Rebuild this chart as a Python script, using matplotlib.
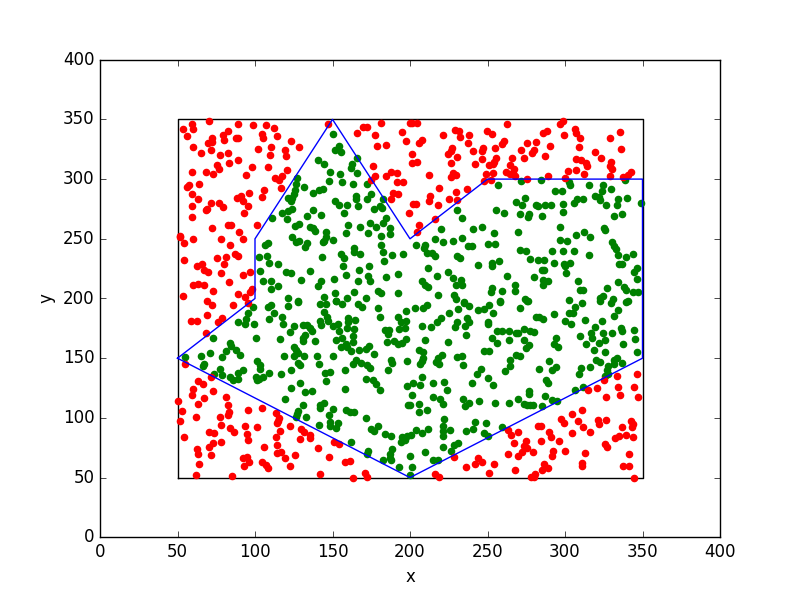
import matplotlib
matplotlib.use("Agg")
import matplotlib.pyplot as plt

plt.style.use('classic')

# points outside the polygon
red_points = [
(53.8,342),(59.1,346),(60.2,342),(70.5,349),(55.9,336),(89.2,346),(98.5,345),(106.9,345),(112.5,343),(147.3,346),
(104.3,338),(104.9,334.4),(114,336),(79.1,337),(82.8,340),(72.5,334.4),(80.2,332.7),(72,330.8),(69.5,330.2),(88.8,334.4),
(87.5,334.4),(60.2,327),(65,322),(71.4,324),(77.6,320),(82.8,322),(102.1,325),(110.1,327),(109.9,320),(119.6,324.4),
(120.2,319.4),(123.4,331.6),(128.6,327),(166,338.6),(169.4,343.6),(172.4,344),(181.5,347),(177.6,337),(194.6,339.4),(197.4,331.6),
(178.5,327.7),(184.3,328.6),(200,347),(88.8,316),(83.4,313.5),(75.3,312),(77,308.5),(73.1,304.3),(68.2,306),(59.1,306),
(97.8,310),(94,303.5),(108.6,310),(120.8,307.6),(112.7,300.7),(117.2,302.3),(115.7,299.3),(116.5,292.6),(175.9,311),(177.6,302.6),
(175,299.5),(184.3,302.6),(188,306),(191.4,305),(191.4,297.6),(195.7,297.6),(64,296),(57.6,294.8),(56.3,293.4),(59.6,287.5),
(63.4,283.4),(59.1,277.5),(71.4,280),(76.6,280),(79.6,276.4),(69.2,275),(68.4,274),(96.3,288.4),(106,291),(104.3,284.8),
(90.7,285.9),(88.6,284.2),(92,281.4),(95.7,277.5),(93.1,271.6),(59.4,268.3),(188.8,288.4),(192.4,287.5),(188,283.4),(199.1,271.6),
(72.5,259),(82.8,261.6),(84.5,261.6),(89.9,255.7),(101.5,261.6),(92,249.9),(78.3,249.9),(60.2,249.9),(51.8,252.7),(51.8,251.3),
(54.4,246.5),(84.1,244.9),(87.1,237.3),(88.8,235.7),(81.5,234.8),(75.7,234),(80.2,229),(54.4,232.3),(62.4,227.3),(65.6,229),
(67.3,224),(69.9,222.3),(78.3,221.4),(92,219.7),(97,222.3),(83.4,213.9),(59.8,211.4),(63.4,212.2),(67.3,211.4),(73.1,206.4),
(53.8,202.2),(88.8,203.8),(93.8,201.3),(96.8,205.2),(98.3,208),(69.2,197.5),
(72.5,194.7),(86,194.7),(95.7,196),(68.8,186.3),(78.9,183.8),(75.9,180.4),(58.5,181.3),(62.8,181.3),(68.2,170.7),(54.8,145.3),
(71.4,134.4),(63.4,131),(66.7,128.5),(60.2,124.4),(59.6,119.3),(73.1,122.7),(67.3,116.8),(63.4,111.8),(50.5,114.3),(53.1,106),
(51.8,97.6),(62.1,100.9),(81.5,117.7),(82.8,111),(83.4,105.1),(82.8,102.6),(77.6,100.9),(95.7,106.8),(104.7,108.5),(113.8,104.3),
(115.7,100.1),(115,97.6),(114.4,95.9),(78.3,94.2),(84.1,91.7),(86.7,88.6),(93.8,93.4),(101.5,92.6),(70.5,88.4),(73.8,87.5),
(54.4,84.2),(95,86.7),(95.7,81.7),(122.8,93.4),(116.3,89.2),(113.8,84.2),(129.9,90.9),(131.8,88.4),(135.7,85.9),(135.7,83.4),
(129.2,82.5),(78.3,80),(73.1,79.2),(70.5,75.8),(62.8,74.1),(63.4,70),(71.8,69.1),(106,75.8),(114.4,77.5),(114.4,70.8),
(117,71.6),(119.6,66.6),(126,69.1),(140.8,75),(151.2,80),(154.4,78.3),(148,67.4),(92.5,66.6),(95,67.4),(96.3,63.3),
(93.1,59.9),(104.7,63.3),(107.3,60.8),(108.6,58.2),(122.8,59.9),(64.1,61.6),(62.1,52.4),(85.4,51.5),(142.1,53.2),(158.3,63.3),
(161.5,64.1),(171.2,54.1),(172.4,50.7),(163.4,49.9),
(201,347),(204.3,347),(221.5,337),(229.2,341.1),(231.8,340.3),(232.5,335.3),(238.3,337),(237.6,330.2),(240.9,323.5),(249.9,340.3),
(253.1,337.8),(262.8,346.1),(207.5,332.7),(206,330.2),(227.3,326),(224.7,321),(226.7,323.5),(230.5,318.5),(226.2,313.5),(201,321),
(201,313.5),(204.7,314.3),(247.3,326),(246.7,323.5),(246.7,316.8),(242.1,312.7),(255,326),(260.8,331.9),(259.6,329.4),(255.7,317.7),
(254.4,314.3),(251.2,311.8),(253.8,312.7),(253.8,305.1),(249.2,304.3),(252.5,299.3),(247.9,298.4),(212.5,303.5),(228,305.1),(229.9,303.5),
(226.7,301.8),(266,317.7),(264.7,311.8),(267.3,308.5),(266.7,305.1),(262.1,306),(264.7,304.3),(267.9,302.6),(275.7,330.2),(271.8,324.4),
(273.7,317.7),(281.5,331.1),(280.2,324.4),(278.9,321.9),(286,338.6),(288.6,340.3),(290.5,327.7),(287.3,319.4),(275.7,300.1),(289.2,302.6),
(299.5,337),(297,346.1),(298.9,348.7),(306.6,342),(307.3,338.6),(309.9,334.4),(309.2,326.9),(319.5,322.7),(323.4,317.7),(329.2,334.4),
(335.7,339.4),(336.3,325.2),(307.3,316.8),(310.5,316),(313.7,313.5),(314.4,311),(329.9,314.3),(329.2,311),(330.5,308.5),(329.2,302.6),
(302.1,306.8),(307.3,307.6),(312.4,304.3),(300.2,301),(342.8,306),(340.8,303.5),(337.6,301.8),(218.9,292.6),(213.1,285.9),(212.5,281.7),
(218.3,278.3),(229.9,289.2),(225.4,283.4),(230.5,282.5),(237,291.7),(203.9,279.2),(202.2,279.2),(216.3,266.6),(206,261.6),(204.7,255.7),
(228.6,67.4),(216.3,53.2),(218.9,50.7),(236.3,59.1),(242.1,61.6),(244.1,66.6),(246.7,63.3),(254.4,61.6),(251.2,54.1),(263.4,70),
(267.9,56.6),(263.4,90),(265.4,85.9),(269.9,88.4),(267.3,79.2),(275,80.8),(273.7,76.7),(275.7,75),(272.5,71.6),(269.9,68.3),
(279.6,71.6),(282.8,93.4),(284.7,93.4),(289.9,88.4),(291.2,84.2),(284.7,80.8),(296.3,80.8),(292.5,72.5),(291.8,68.3),(300.2,72.5),
(297.6,99.3),(299.5,95.9),(304.7,103.4),(311.2,106.8),(308.6,97.6),(311.8,92.6),(304.7,87.5),(316.3,88.4),(321.5,98.4),(322.1,95.1),
(326.6,98.4),(337,92.6),(342.8,97.6),(344,95.1),(343.4,92.6),(332.4,83.4),(335,85),(339.5,85.9),(344,84.2),(326,78.3),
(327.3,75.8),(313.1,70.8),(311.2,62.4),(311.2,59.9),(341.5,70),(337.6,59.9),(341.5,59.9),(344.7,49.9),(286.6,61.6),(285.4,56.6),
(289.2,58.2),(280.8,53.2),(278.3,50.7),(280.2,50.7),(315,123.5),(320.8,125.2),(325.3,131.9),(333.7,135.2),(346.6,136.9),(334.4,126),
(344.7,126),(326.6,117.7),(335.7,119.3),(347.3,117.7),
]

# points inside the polygon
green_points = [
(150.5,337.8),(154.4,328),(151.8,324.4),(155.7,322.7),(166,317.7),(162.8,312.7),(162.1,309.3),(166,305.1),(140.8,316),(144.7,312.7),
(148.6,306),(155,304.3),(148,298.4),(156.3,297.6),(163.4,295.9),(172.4,295.9),(127.3,300.9),(126.6,296),(131.8,293.4),(126,290.9),
(137.6,288.4),(141.5,290.9),(144.1,291.7),(125.4,287.5),(124.1,284.2),(121.5,284.2),(123.4,281.7),(175,287.5),(172.4,283.4),(165.3,285.9),
(165.3,283.4),(182.8,283.4),(151.8,281.7),(154.4,278.3),(159.6,278.3),(166.6,277.5),(180.8,277.5),(177,275),(182.1,275.8),(124.1,275),
(121.5,273.3),(117.6,271.6),(137.6,274.2),(157.6,271.6),(133.7,269.1),(142.8,270),(111.2,267.5),(120.8,266.6),(184.7,267.5),(182.8,263.3),
(174.4,263.3),(178.2,259.9),(160.2,261.6),(168,259.9),(187.3,259.1),(187.3,254.1),(128.6,262.4),(126,260.8),(135.7,259.9),(137.6,259.1),
(138.9,256.6),(146,255.7),(158.9,254.9),(173.1,254.9),(181.5,252.4),(124.1,251.6),(126.6,247.4),(128.6,248.2),(146,251.6),(144.7,248.2),
(150.5,249),(144.1,247.4),(133.7,246.5),(132.5,243.2),(108.6,246.5),(106.7,244.9),(181.5,244.9),(164.1,242.3),(164.1,239),(168,237.3),
(182.8,239),(155.7,237.3),(157.6,234),(143.4,234.8),(188.6,236.5),(195.7,237.3),(183.4,231.5),(102.8,234.8),(107.9,235.7),(109.2,229.8),
(115,229),(103.4,223.1),(120.2,222.3),(123.4,221.4),(135.7,223.1),(157,227.3),(173.7,227.3),(167.3,224),(158.9,219.7),(173.1,218.9),
(174.4,214.7),(184.7,218.1),(192.4,220.6),(166.6,214.7),(151.2,216.4),(142.8,214.7),(140.8,210.5),(129.9,215.6),(105.4,214.7),(110.5,214.7),
(115,210.5),(110.5,208),(179.5,206.4),(181.5,204.7),(192.4,204.7),(164.1,205.5),(151.8,204.7),(144.7,201.3),(159.6,200.5),(171.8,200.5),
(121.5,200.5),(128,197.7),(152.4,198.3),
(98.9,193),(95.7,188),(94.4,183),(89.2,180.4),(93.8,178.8),(99.6,178.8),(108.6,193),(110.5,194.7),(112.5,188),(109.2,183),
(121.5,193.8),(128,196.9),(117.6,184.6),(118.3,178.8),(125.4,177.1),(122.8,172.1),(131.2,177.9),(133.7,177.9),(135.7,175.4),(137,172.9),
(132.5,169.6),(131.2,167),(131.2,164.5),(138.9,164.5),(142.1,195.2),(146,195.2),(144.7,188.8),(142.1,181.3),(142.8,177.9),(146.6,184.6),
(147.3,181.3),(150.5,177.1),(153.7,178.8),(154.4,172.9),(156.3,195.5),(152.4,197.5),(160.2,183.8),(164.7,182.1),(160.2,180.4),(159.6,175.4),
(164.1,174.6),(163.4,168.7),(156.3,167),(152.4,165.4),(163.4,163.7),(158.9,162),(155.7,159.5),(159.6,159.5),(162.1,156.2),(167.3,157),
(171.8,157.8),(173.7,160.4),(177,153.7),(166.6,195.5),(169.2,193),(179.5,192.2),(180.8,184.6),(192.4,184.6),(197.6,189.7),(197.6,181.3),
(194.4,180.4),(193.1,174.6),(197,175.4),(184.1,173.7),(186.6,173.7),(186,170.4),(185.3,163.7),(189.9,164.5),(192.4,162),(195,162.9),
(197.6,166.2),(73.1,167),(100.8,167),(116.3,166.2),(84.1,162.9),(84.7,160.4),(71.2,154.5),(65.4,152),(81.5,156.2),(88,157),
(90.5,152.8),(78.9,151.2),(55,151.2),(67.3,145.3),(66.7,143.6),(77.6,141.1),(73.8,136.9),(78.9,136.1),(84.1,134.4),(86,131.9),
(89.2,132.7),(89.2,137.8),(92.5,140.3),(101.5,147.8),(103.4,144.4),(103.4,141.1),(100.8,134.4),(101.5,131.9),(102.8,132.7),(105.4,134.4),
(109.2,137.8),(117,136.9),(123.4,140.3),(118.9,152),(125.4,159.5),(126.6,157),(125.4,152),(128,154.5),(131.8,152),(128,146.1),
(129.2,144.4),(140.2,152),(141.5,145.3),(150.5,152),(163.4,145.3),(165.3,148.6),(168.6,146.1),(172.4,144.4),(174.4,141.9),(158.3,140.3),
(145.4,137.8),(148.6,138.6),(146,131),(129.2,129.4),(123.4,125.2),(132.5,121.9),(137,122.7),(158.3,124.4),(171.8,132.7),(176.3,131.9),
(178.3,128.5),(180.8,123.5),(187.9,148.6),(188.6,146.1),(186,140.3),(198.2,147.8),(198.2,126.9),(119.6,116),(131.2,111),(144.7,112.6),
(142.1,111),(142.1,108.5),(150.5,107.6),(128,106),(127.3,103.4),(126.6,100.9),(133.1,100.9),(148,102.6),(158.9,106.8),(161.5,105.1),
(164.1,105.1),(171.8,100.1),(148.6,96.7),(148.6,93.4),(153.7,95.9),(152.4,91.7),(141.5,94.2),(175,90.9),(177,89.2),(179.5,93.4),
(184.1,86.7),(187.9,85),(195,84.2),(198.2,85),(194.4,80),(197,81.7),(162.1,80),(173.1,72.5),(172.4,69.9),(188.6,74.1),
(187.3,70),(187.3,66.6),(182.8,64.9),(187.9,64.9),(193.1,59.1),(198.9,111),
(203.4,192.2),(208.6,192.2),(211.2,194.7),(225.4,188),(231.2,191.3),(235,196),(238.3,193.8),(244.1,190.5),(247.9,191.3),(251.2,194.7),
(258.3,196.9),(271.2,192.2),(275.7,197.7),(253.8,188),(250.5,180.4),(250.5,178.8),(237,183.8),(238.3,180.4),(235.7,177.1),(230.5,180.4),
(229.2,176.3),(236.3,169.6),(220.2,183.8),(217.6,180.4),(213.8,176.3),(208,177.1),(209.7,165.4),(224.7,163.7),(281.5,184.6),(283.4,184.6),
(286,183),(293.1,187.1),(300.2,181.3),(304.1,178.8),(302.8,188),(305.4,188),(306.6,193),(311.2,196.1),(313.1,182.1),(322.8,198.3),
(329.9,196),(334.4,190.5),(331.8,185.5),(324.1,181.3),(319.5,176.3),(339.5,196.9),(336.3,175.4),(337,172.9),(330.5,171.2),(324.7,171.2),
(317,171.2),(317.6,167),(309.9,168.7),(326,165.4),(322.1,162.9),(313.7,162),(318.9,157),(326,155.3),(337.6,162),(344.7,173.7),
(345.3,166.2),(346.6,155.3),(256.3,172.9),(259.6,172.9),(264.1,172.9),(268.6,171.2),(269.9,171.2),(273.7,174.6),(277.6,172.9),(280.2,172.1),
(253.1,167),(256.3,162.9),(264.1,165.4),(273.7,165.4),(277,161.2),(275,158.7),(294.4,167),(293.1,162),(295.7,159.5),(247.9,156.2),
(251.2,156.2),(268.6,152.8),(271.2,152),(206,157),(208.6,155.3),(220.9,152.8),(218.3,150.3),(217,147),(218.9,145.3),(208.6,150.3),
(208,147.8),(206.7,145.3),(230.5,151.2),(233.8,152),(234.4,144.4),(264.7,148.6),(264.7,143.6),(261.5,139.4),(246,141.1),(243.4,136.9),
(250.5,133.6),(253.8,127.7),(240.2,129.4),(283.4,141.1),(289.9,147.8),(294.4,142.8),(291.8,140.3),(310.5,141.9),(309.2,136.9),(316.3,142.8),
(320.2,148.6),(322.8,146.9),(327.9,143.6),(327.3,140.3),(331.8,148.6),(333.7,150.3),(331.8,145.3),(337,146.1),(326,135.2),(327.9,136.9),
(208,134.4),(202.2,129.4),(206.7,127.7),(215,129.4),(222.1,130.2),(224.1,123.5),(201.5,119.3),(215,117.7),(219.6,116),(221.5,111.8),
(206,111.8),(211.2,106.8),(206,105.1),(200,111),(234.4,116),(238.3,112.6),(235.7,110.1),(244.7,114.3),(255,112.6),(264.1,112.6),
(269.9,116),(277,122.7),(277,120.2),(287.3,118.5),(273.7,111.8),(275.7,111),(277.6,111),(279.6,111),(285.4,110.1),(291.8,115.2),
(295,114.3),(287.9,131.9),(289.2,129.4),(306.6,123.5),(311.8,126),(222.1,99.3),(221.5,93.4),(221.5,89.2),(221.5,85),(226,90),
(211.8,90.9),(204.1,90),(208,87.5),(200.6,85.9),(242.1,96.7),(240.9,90.9),(236.3,89.2),(249.2,95.9),(247.9,87.5),(250.5,85),
(259.6,92.6),(221.5,75.8),(231.2,79.2),(228.6,77.5),(226.7,72.5),(209.9,71.6),(215,64.9),(218.3,64.9),(200,68.3),(201.5,59.1),
(200,52.4),
(257,295.1),(271.8,298.4),(284.7,299.3),(302.8,297.6),(303.4,295.1),(315.7,295.1),(324.7,295.1),(324.1,290.1),(329.9,291.7),(338.9,299.3),
(293.7,290.1),(298.3,290.1),(274.4,284.2),(268.6,280.9),(272.5,278.3),(281.5,278.3),(282.8,277.5),(287.3,278.3),(291.2,278.3),(298.9,279.2),
(307.9,283.4),(306,280),(311.8,283.4),(319.5,285.9),(322.1,285),(322.8,282.5),(326.6,278.3),(334.4,283.4),(333.7,278.3),(340.2,284.2),
(349.2,280),(230.5,274.2),(233.8,267.5),(255.7,274.2),(260.8,271.6),(271.2,270.8),(277,270.8),(276.3,268.3),(285.4,269.1),(298.9,272.5),
(331.8,269.1),(337,270.8),(220.2,258.3),(240.9,258.3),(246.7,259.9),(254.4,254.9),(269.9,255.7),(297,259.9),(325.3,259.1),(326,257.4),
(216.3,249.9),(221.5,247.4),(228,248.2),(233.8,250.7),(204.1,244.9),(209.9,244.9),(209.2,242.3),(211.2,238.2),(214.4,238.2),(216.3,235.7),
(237.6,244),(240.2,244),(250.5,245.7),(255,245.7),(230.5,235.7),(232.5,234),(271.2,240.7),(275,239.8),(277.6,233.1),(282.8,232.3),
(286.6,232.3),(291.8,239.8),(298.9,239.8),(306,239.8),(297,249),(301.5,248.2),(307.3,253.2),(312.4,255.7),(316.3,251.6),(315.7,236.5),
(330.5,247.4),(331.8,244),(333.1,241.5),(334.4,236.5),(339.5,234.8),(344,237.3),(244.1,228.1),(253.1,229.8),(253.1,227.3),(257.6,231.5),
(293.1,229.8),(299.5,229),(303.4,229.8),(300.8,221.4),(300.2,227.3),(285.4,223.9),(286.6,223.9),(335,229),(337,229),(346.6,225.6),
(344.7,222.3),(346.6,216.4),(211.8,225.6),(217.6,218.9),(224.7,222.3),(228,217.2),(233.1,215.6),(229.9,211.4),(233.8,211.4),(262.8,218.9),
(280.2,218.1),(286,215.6),(289.2,214.7),(286,211.4),(308.6,214.7),(334.4,213.9),(208,214.7),(209.9,211.4),(211.8,209.7),(218.3,203),
(228.6,203),(229.9,199.7),(235,197),(253.1,208.9),(252.5,205.5),(259.6,206.4),(267.9,211.4),(267.9,206.4),(258.3,197.7),(274.4,199.7),
(276.3,198.3),(302.8,198.8),(309.9,207.2),(311.8,207.2),(327.3,208.9),(338.2,209.7),(339.5,207.2),(344,205.5),(347.3,205.5),(324.7,202.2),
(322.8,200.5),(331.2,199.7),(340.8,197.7),
]

# polygon and bounding square
poly_x = [50, 100, 100, 150, 200, 250, 350, 350, 200, 50]
poly_y = [150, 200, 250, 350, 250, 300, 300, 150, 50, 150]
box_x = [50, 350, 350, 50, 50]
box_y = [50, 50, 350, 350, 50]

fig = plt.figure(figsize=(8, 5.97), dpi=100, facecolor='white')
ax = fig.add_subplot(111)

ax.plot(box_x, box_y, color='k', lw=1)
ax.scatter([p[0] for p in green_points], [p[1] for p in green_points], s=20, c='g', edgecolors='g', zorder=2)
ax.scatter([p[0] for p in red_points], [p[1] for p in red_points], s=20, c='r', edgecolors='r', zorder=2)
ax.plot(poly_x, poly_y, color='b', lw=1, zorder=3)

ax.set_xlim(0, 400)
ax.set_ylim(0, 400)
ax.set_xlabel('x')
ax.set_ylabel('y')

fig.savefig('out.png', dpi=100, facecolor='white')
